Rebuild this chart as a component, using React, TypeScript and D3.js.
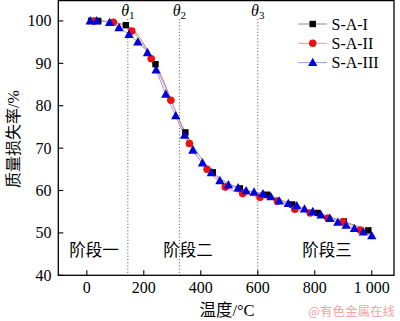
import React from "react";
import * as d3 from "d3";

const seriesNames = ["S-A-I", "S-A-II", "S-A-III"];

const s1: [number, number][] = [
  [15, 100], [40, 100], [137, 99.0], [241, 89.8], [346, 73.7], [442, 64.3], [537, 60.5],
  [633, 59.0], [721, 56.7], [810, 54.7], [902, 52.7], [988, 50.6],
];
const s2: [number, number][] = [
  [25, 100], [93, 99.7], [158, 97.6], [226, 91.1], [295, 81.3], [360, 71.1], [422, 65.0],
  [486, 60.8], [547, 59.3], [608, 58.4], [669, 57.5], [730, 55.6], [784, 54.7], [846, 53.5],
  [900, 52.6], [960, 50.7],
];
const s3: [number, number][] = [
  [12, 100], [35, 100], [80, 99.6], [113, 98.4], [148, 96.8], [179, 95.0], [213, 92.5],
  [243, 88.4], [277, 82.7], [312, 77.6], [343, 73.0], [372, 69.5], [406, 66.5], [437, 64.2],
  [467, 62.3], [497, 61.3], [531, 60.6], [559, 59.9], [587, 59.6], [618, 59.2], [646, 58.5],
  [675, 57.5], [707, 56.9], [737, 56.4], [764, 55.6], [793, 55.0], [822, 54.2], [853, 53.4],
  [881, 52.5], [910, 51.8], [939, 51.0], [970, 50.2], [1000, 49.3],
];

const xTicks = [0, 200, 400, 600, 800, 1000];
const xTickLabels = ["0", "200", "400", "600", "800", "1 000"];
const yTicks = [40, 50, 60, 70, 80, 90, 100];

const thetaPositions = [144, 325, 600];
const thetaSubs = ["1", "2", "3"];
const stageLabels = ["阶段一", "阶段二", "阶段三"];
const stageCenters = [25, 355, 843];

const xLabel = "温度";
const yLabel = "质量损失率";
const watermark = "@有色金属在线";

const lineColors = ["#8c8c8c", "#f29a9a", "#9a9af2"];
const markerColors = ["#000000", "#ee1111", "#0000dd"];

const W = 400;
const H = 321;
const L = 58.3;
const R = 394;
const T = 0.6;
const B = 275.3;

function Marker({ kind, x, y, color }: { kind: number; x: number; y: number; color: string }) {
  if (kind === 0) return <rect x={x - 3.2} y={y - 3.2} width={6.4} height={6.4} fill={color} />;
  if (kind === 1) return <circle cx={x} cy={y} r={3.8} fill={color} />;
  const s = 4.9;
  return (
    <path
      d={`M${x},${y - s} L${x + s * 0.95},${y + s * 0.7} L${x - s * 0.95},${y + s * 0.7} Z`}
      fill={color}
    />
  );
}

export default function App() {
  const x = d3.scaleLinear().domain([-100, 1078]).range([L, R]);
  const y = d3.scaleLinear().domain([40, 104.8]).range([B, T]);
  const line = d3
    .line<[number, number]>()
    .x((d) => x(d[0]))
    .y((d) => y(d[1]))
    .curve(d3.curveMonotoneX);
  const all = [s1, s2, s3];
  const font = "'Liberation Serif', 'Times New Roman', serif";
  const cjk = "'Noto Sans CJK SC', serif";

  return (
    <svg
      width={W}
      height={H}
      style={{ position: "absolute", left: 0, top: 0, background: "#fff" }}
      fontFamily={font}
    >
      <rect x={0} y={0} width={W} height={H} fill="#fff" />
      {thetaPositions.map((t, i) => (
        <g key={"th" + i}>
          <line
            x1={x(t)}
            x2={x(t)}
            y1={19}
            y2={B}
            stroke="#555"
            strokeWidth={0.9}
            strokeDasharray="1.2,2"
          />
          <text x={x(t)} y={16} textAnchor="middle" fontSize={16} fill="#000">
            <tspan fontStyle="italic">θ</tspan>
            <tspan fontSize={11} dy={3}>
              {thetaSubs[i]}
            </tspan>
          </text>
        </g>
      ))}
      {stageLabels.map((s, i) => (
        <text
          key={"st" + i}
          x={x(stageCenters[i])}
          y={256}
          textAnchor="middle"
          fontSize={16.5}
          fontFamily={cjk}
          fill="#000"
        >
          {s}
        </text>
      ))}
      {all.map((s, i) => (
        <path key={"l" + i} d={line(s) || ""} fill="none" stroke={lineColors[i]} strokeWidth={1} />
      ))}
      {all.map((s, i) =>
        s.map((d, j) => (
          <Marker key={`m${i}-${j}`} kind={i} x={x(d[0])} y={y(d[1])} color={markerColors[i]} />
        ))
      )}
      <rect x={L} y={T} width={R - L} height={B - T} fill="none" stroke="#000" strokeWidth={1.3} />
      {xTicks.map((t, i) => (
        <g key={"xt" + i}>
          <line x1={x(t)} x2={x(t)} y1={B} y2={B - 5} stroke="#000" strokeWidth={1.1} />
          <text x={x(t)} y={293} textAnchor="middle" fontSize={16} fill="#000">
            {xTickLabels[i]}
          </text>
        </g>
      ))}
      {yTicks.map((t, i) => (
        <g key={"yt" + i}>
          <line x1={L} x2={L + 5} y1={y(t)} y2={y(t)} stroke="#000" strokeWidth={1.1} />
          <text x={51.5} y={y(t) + 5.5} textAnchor="end" fontSize={16} fill="#000">
            {t}
          </text>
        </g>
      ))}
      <text x={227} y={316} textAnchor="middle" fontSize={16.5} fill="#000">
        <tspan fontFamily={cjk}>{xLabel}</tspan>
        <tspan>/°C</tspan>
      </text>
      <text
        transform={`translate(19,139) rotate(-90)`}
        textAnchor="middle"
        fontSize={16}
        fill="#000"
      >
        <tspan fontFamily={cjk}>{yLabel}</tspan>
        <tspan>/%</tspan>
      </text>
      {seriesNames.map((n, i) => {
        const ly = 24 + i * 19.3;
        return (
          <g key={"lg" + i}>
            <line x1={298} x2={327} y1={ly} y2={ly} stroke={lineColors[i]} strokeWidth={1} />
            <Marker kind={i} x={312.7} y={ly} color={markerColors[i]} />
            <text x={331.5} y={ly + 5.5} fontSize={16} fill="#000">
              {n}
            </text>
          </g>
        );
      })}
      <text x={395} y={316} textAnchor="end" fontSize={12.5} fontFamily={cjk} fill="#f4a6a6">
        {watermark}
      </text>
    </svg>
  );
}
